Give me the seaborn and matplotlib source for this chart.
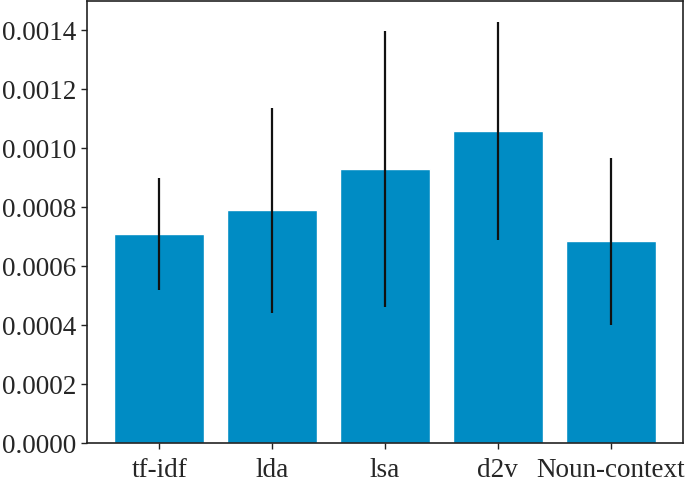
import matplotlib
matplotlib.use("Agg")
import matplotlib.pyplot as plt
import seaborn as sns
import pandas as pd

categories = ["tf-idf", "lda", "lsa", "d2v", "Noun-context"]
means = [0.000709, 0.000790, 0.000929, 0.001060, 0.000685]
errors = [0.000190, 0.000348, 0.000469, 0.000370, 0.000283]

sns.set_style("ticks")
plt.rcParams["font.family"] = ["Liberation Serif", "DejaVu Serif"]

fig = plt.figure(figsize=(6.85, 4.86), dpi=100)
ax = fig.add_axes([87/685, 1 - 443/486, (683-87)/685, (443-1)/486])

df = pd.DataFrame({"method": categories, "value": means})
sns.barplot(data=df, x="method", y="value", color="#008CC4", saturation=1,
            errorbar=None, width=0.8, ax=ax)
ax.errorbar(range(len(categories)), means, yerr=errors, fmt="none",
            ecolor="#111111", elinewidth=1.6, capsize=0)

ax.set_xlim(-0.64, 4.64)
ax.set_ylim(0, 0.0015)
ax.set_yticks([0, 0.0002, 0.0004, 0.0006, 0.0008, 0.0010, 0.0012, 0.0014])
ax.set_yticklabels(["0.0000", "0.0002", "0.0004", "0.0006", "0.0008", "0.0010", "0.0012", "0.0014"])
ax.set_xlabel("")
ax.set_ylabel("")
ax.tick_params(labelsize=19.5, length=4.5, width=1, color="#222222")
ax.tick_params(axis="x", pad=6.5)
ax.tick_params(axis="y", pad=3.5)
for s in ax.spines.values():
    s.set_linewidth(1.2)
    s.set_color("#222222")
    s.set_visible(True)

fig.savefig("out.png", dpi=100)
